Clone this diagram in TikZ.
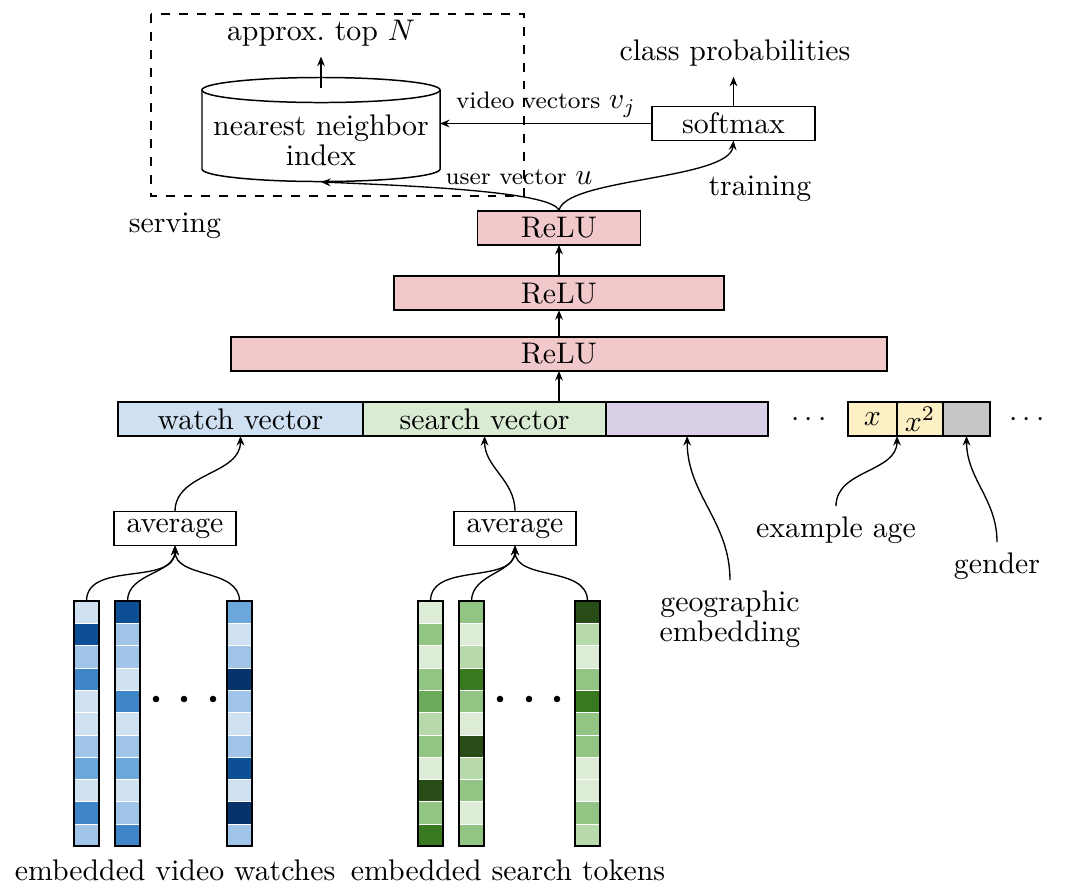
\documentclass[tikz,border=0pt]{standalone}
\usetikzlibrary{arrows.meta,positioning}
\newdimen\px \px=0.3357pt
\definecolor{relured}{HTML}{F2C9CB}
\definecolor{watchblue}{HTML}{CFE0F3}
\definecolor{searchgreen}{HTML}{D9EBD3}
\definecolor{geopurple}{HTML}{D9CFE6}
\definecolor{ageyellow}{HTML}{FDF0C4}
\definecolor{gendergray}{HTML}{C6C6C6}
\definecolor{b1}{HTML}{D0E1F2}
\definecolor{b2}{HTML}{A0C5E8}
\definecolor{b3}{HTML}{6CA7DB}
\definecolor{b4}{HTML}{3D85C6}
\definecolor{b5}{HTML}{0D4F97}
\definecolor{b6}{HTML}{08336A}
\definecolor{g1}{HTML}{DCECD6}
\definecolor{g2}{HTML}{B6DAA9}
\definecolor{g3}{HTML}{92C583}
\definecolor{g4}{HTML}{6AAA5A}
\definecolor{g5}{HTML}{38781F}
\definecolor{g6}{HTML}{284C16}
\begin{document}
\begin{tikzpicture}[x=0.0118cm,y=-0.0118cm,
    box/.style={draw, line width=0.5pt, inner sep=0pt, outer sep=0pt,
      minimum height=34*\px},
    relu/.style={box, fill=relured},
    emb/.style={draw, line width=0.55pt, inner sep=0pt, outer sep=0pt,
      minimum width=25*\px, minimum height=245*\px},
    conn/.style={-{Stealth[length=3.2pt,width=2.6pt]}, line width=0.45pt}]
  \useasboundingbox (0,0) rectangle (1080,890);

  % serving side
  \draw[dashed, line width=0.5pt] (151,14) rectangle (524,196);
  \draw[line width=0.5pt] (202,90) -- (202,169)
    arc[start angle=180, end angle=360, x radius=39.95pt, y radius=4.2pt] -- (440,90);
  \draw[line width=0.5pt] (321,90) ellipse[x radius=39.95pt, y radius=4.2pt];
  \node[align=center] (nn) at (321,140) {nearest neighbor\\[-2pt]index};
  \coordinate (nntop) at (321,88);
  \coordinate (nnbot) at (321,182);
  \coordinate (nnside) at (440,123.5);
  \node (topN) at (321,33) {approx.\ top $N$};
  \node (serve) at (175,226) {serving};

  % training side
  \node[box, minimum width=163*\px] (soft) at (733.5,123.5) {softmax};
  \node (classprob) at (735,53) {class probabilities};
  \node (train) at (760,189) {training};

  % hidden layers
  \node[relu, minimum width=656*\px] (relu3) at (559,354) {ReLU};
  \node[relu, minimum width=330*\px, above=9pt of relu3] (relu2) {ReLU};
  \node[relu, minimum width=163*\px, above=10.5pt of relu2] (relu1) {ReLU};
  \node[font=\footnotesize] (uvec) at (519,177) {user vector\ {\normalsize$u$}};

  % input features
  \node[box, fill=watchblue, minimum width=245*\px] (watch) at (240.5,419) {watch vector};
  \node[box, fill=searchgreen, minimum width=243*\px, right=0pt of watch] (search) {search vector};
  \node[box, fill=geopurple, minimum width=162*\px, right=0pt of search] (geo) {};
  \node (dotsa) at (809,420) {$\cdots$};
  \node[box, fill=ageyellow, minimum width=49*\px] (age) at (872.5,419) {$x$};
  \node[box, fill=ageyellow, minimum width=46*\px, right=0pt of age] (agesq) {$x^2$};
  \node[box, fill=gendergray, minimum width=47*\px, right=0pt of agesq] (gen) {};
  \node (dotsb) at (1027,420) {$\cdots$};

  \node[box, minimum width=122*\px] (avgw) at (175,528.5) {average};
  \node[box, minimum width=122*\px] (avgs) at (515,528.5) {average};
  \node[align=center] (geolab) at (730,619) {geographic\\[-2pt]embedding};
  \node (agelab) at (836,530) {example age};
  \node (genlab) at (997,566) {gender};

  % embedded columns
  \foreach \x/\cl in {74/{b1,b5,b2,b4,b1,b1,b2,b3,b1,b4,b2},
                      115/{b5,b2,b2,b1,b4,b1,b2,b3,b1,b2,b4},
                      227/{b3,b1,b2,b6,b2,b1,b2,b5,b1,b6,b2},
                      418/{g1,g3,g1,g3,g4,g2,g3,g1,g6,g3,g5},
                      459/{g3,g1,g2,g5,g3,g1,g6,g2,g3,g1,g3},
                      575/{g6,g2,g1,g3,g5,g3,g3,g1,g1,g3,g2}}
    \foreach \c [count=\i from 0] in \cl
      \filldraw[fill=\c, draw=white, line width=0.2pt]
        (\x,601+\i*22.3) rectangle ++(25,22.3);
  \node[emb] (w1) at (86.5,723.7) {};
  \node[emb] (w2) at (127.5,723.7) {};
  \node[emb] (w3) at (239.5,723.7) {};
  \node[emb] (s1) at (430.5,723.7) {};
  \node[emb] (s2) at (471.5,723.7) {};
  \node[emb] (s3) at (587.5,723.7) {};
  \foreach \x in {156,184,213,500,529,557}
    \fill (\x,699) circle[radius=1.1pt];
  \node (watchlab) at (175,870) {embedded video watches};
  \node (searchlab) at (508,870) {embedded search tokens};

  % connections
  \begin{scope}[conn]
    \draw (nntop) -- (topN.south);
    \draw (soft.north) -- (soft.north |- classprob.south);
    \draw (soft.west) -- (nnside)
      node[midway, above=-1.5pt, font=\footnotesize] {video vectors {\normalsize$v_j$}};
    \draw (relu1.north) .. controls (555,192) and (420,186) .. (nnbot);
    \draw (relu1.north) .. controls (564,178) and (730,180) .. (soft.south);
    \draw (relu3.north) -- (relu2.south);
    \draw (relu2.north) -- (relu1.south);
    \draw (relu3.south |- search.north) -- (relu3.south);
    \draw (avgw.north) to[out=90, in=-90] (watch.south);
    \draw (avgs.north) to[out=90, in=-90] (search.south);
    \draw (geolab.north) to[out=90, in=-90] (geo.south);
    \draw (agelab.north) to[out=90, in=-90] (age.south east);
    \draw (genlab.north) to[out=90, in=-90] (gen.south);
    \draw (w1.north) to[out=90, in=-90] (avgw.south);
    \draw (w2.north) to[out=90, in=-90] (avgw.south);
    \draw (w3.north) to[out=90, in=-90] (avgw.south);
    \draw (s1.north) to[out=90, in=-90] (avgs.south);
    \draw (s2.north) to[out=90, in=-90] (avgs.south);
    \draw (s3.north) to[out=90, in=-90] (avgs.south);
  \end{scope}
\end{tikzpicture}
\end{document}
